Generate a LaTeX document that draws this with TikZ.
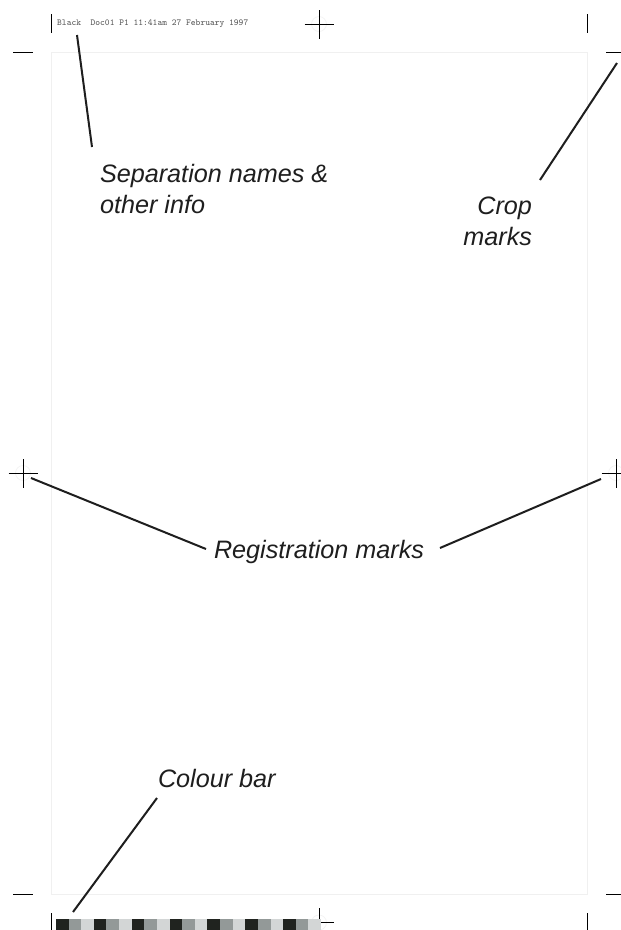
\documentclass[tikz,border=0pt]{standalone}
\usepackage{fontspec}
\setmainfont{Liberation Sans}
\newfontfamily\labelfont{Liberation Sans}
\definecolor{ink}{HTML}{1E1E1E}
\definecolor{trimline}{HTML}{F0F0F0}
\definecolor{slug}{HTML}{555555}
\definecolor{barA}{HTML}{20231F}
\definecolor{barB}{HTML}{939998}
\definecolor{barC}{HTML}{D3D6D6}
\definecolor{ghost}{HTML}{F2F2F2}
\begin{document}
\begin{tikzpicture}[x=1pt,y=-1pt,
  callout/.style={font=\labelfont\itshape\fontsize{25.2}{30.5}\selectfont, text=ink, inner sep=0pt, outer sep=0pt},
  leader/.style={draw=ink, line width=2pt},
  markline/.style={draw=black, line width=0.9pt},
  ghostring/.style={draw=ghost, line width=0.6pt}]
\useasboundingbox (0,0) rectangle (621,930);
\fill[white] (0,0) rectangle (621,930);

% trimmed page outline
\draw[trimline, line width=0.8pt] (51,52) rectangle (587,894);

% crop marks
\draw[markline] (51,14) -- (51,33);
\draw[markline] (13,52) -- (33,52);
\draw[markline] (587,14) -- (587,33);
\draw[markline] (606,52) -- (626,52);
\draw[markline] (13,894) -- (33,894);
\draw[markline] (51,913) -- (51,935);
\draw[markline] (606,894) -- (626,894);
\draw[markline] (587,913) -- (587,935);

% registration marks
\coordinate (regTop) at (319,24);
\coordinate (regLeft) at (23,473);
\coordinate (regRight) at (616,473);
\coordinate (regBottom) at (319,922.5);
\foreach \r in {regTop,regLeft,regRight,regBottom}{
  \draw[ghostring] (\r) circle (7.5);
  \draw[markline] ([xshift=-14.5pt]\r) -- ([xshift=14.5pt]\r);
  \draw[markline] ([yshift=-14.5pt]\r) -- ([yshift=14.5pt]\r);
}

% colour bar
\foreach \i in {0,...,20}{
  \pgfmathtruncatemacro{\k}{mod(\i,3)}
  \ifcase\k \def\sw{barA}\or \def\sw{barB}\else \def\sw{barC}\fi
  \fill[\sw] (56+\i*12.62,919) rectangle (56+\i*12.62+12.62,931.6);
}
\coordinate (barEdge) at (73,912);

% slug line
\node[anchor=base west, inner sep=0pt, text=slug, font=\ttfamily\fontsize{9.1}{9}\selectfont] (slugtext) at (57,25) {Black\ \ Doc01 P1 11:41am 27 February 1997};

% callout labels (base anchor sits on the last line)
\node[callout, anchor=base west, align=left] (sepLabel) at (100,213) {Separation names \&\\other info};
\node[callout, anchor=base east, align=right] (cropLabel) at (532,245) {Crop\\marks};
\node[callout, anchor=base west] (regLabel) at (214,558) {Registration marks};
\node[callout, anchor=base west] (barLabel) at (158,787) {Colour bar};

% leader lines
\coordinate (sepStart) at (77,35);
\coordinate (sepEnd) at (92,147);
\coordinate (cropStart) at (617,63);
\coordinate (cropEnd) at (540,180);
\coordinate (regLStart) at (31,478);
\coordinate (regLEnd) at (206,549);
\coordinate (regRStart) at (601,479);
\coordinate (regREnd) at (440,548);
\coordinate (barEnd) at (157,798);
\draw[leader] (sepStart) -- (sepEnd);
\draw[leader] (cropStart) -- (cropEnd);
\draw[leader] (regLStart) -- (regLEnd);
\draw[leader] (regRStart) -- (regREnd);
\draw[leader] (barEdge) -- (barEnd);
\end{tikzpicture}
\end{document}
